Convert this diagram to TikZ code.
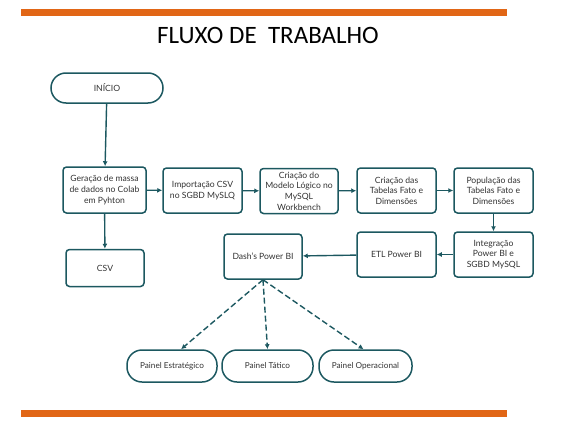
\documentclass[tikz,border=0pt]{standalone}
\usepackage{fontspec}
\setmainfont{Lato}
\newfontfamily\titlefont{Carlito}
\usetikzlibrary{arrows.meta}
\definecolor{mteal}{RGB}{28,88,96}
\definecolor{morange}{RGB}{225,102,22}
\definecolor{mtext}{RGB}{50,50,50}
\tikzset{proc/.style = {draw=mteal, line width=1.5pt, rounded corners=3.5pt,
                        align=center, inner sep=1pt, text=mtext,
                        font=\fontsize{8.6}{10.6}\selectfont,
                        minimum width=79pt, minimum height=45pt}}
\tikzset{term/.style = {proc, rounded corners=15pt, minimum height=31pt}}
\tikzset{flow/.style = {draw=mteal, line width=1.4pt,
                        -{Latex[length=5pt,width=5pt]}}}
\tikzset{flowd/.style = {flow, dash pattern=on 6pt off 3pt}}
\tikzset{bar/.style = {fill=morange, draw=none}}

\begin{document}
\begin{tikzpicture}[x=1pt, y=-1pt]
  \useasboundingbox (0,0) rectangle (588,436);
  \fill[bar] (21,9) rectangle (507,16);
  \fill[bar] (21,410) rectangle (507,417);
  \node[font=\titlefont\fontsize{25}{29}\selectfont] (titulo) at (268,35)
    {FLUXO DE\ \ TRABALHO};

  \node[term, minimum width=112pt, minimum height=30pt] (inicio) at (107,88) {INÍCIO};
  \node[proc, minimum width=83pt, minimum height=46pt] (geracao) at (104.5,190)
    {Geração de massa\\de dados no Colab\\em Pyhton};
  \node[proc, minimum width=78pt, minimum height=37pt] (csv) at (105,268) {CSV};
  \node[proc] (importacao) at (202.5,190.5) {Importação CSV\\no SGBD MySLQ};
  \node[proc, minimum width=78pt] (modelo) at (299,191)
    {Criação do\\Modelo Lógico no\\MySQL\\Workbench};
  \node[proc] (tabelas) at (396.5,190.5) {Criação das\\Tabelas Fato e\\Dimensões};
  \node[proc] (populacao) at (493.5,190.5) {População das\\Tabelas Fato e\\Dimensões};
  \node[proc] (integracao) at (493.5,254.5) {Integração\\Power BI e\\SGBD MySQL};
  \node[proc] (etl) at (396.5,254.5) {ETL Power BI};
  \node[proc, minimum width=78pt] (dash) at (263,256.5) {Dash's Power BI};

  \node[term, minimum width=90pt, minimum height=32pt,
        font=\fontsize{8.2}{10}\selectfont] (estrat) at (172,366) {Painel Estratégico};
  \node[term, minimum width=91pt, minimum height=32pt,
        font=\fontsize{8.2}{10}\selectfont] (tatico) at (267.5,366) {Painel Tático};
  \node[term, minimum width=93pt, minimum height=32pt,
        font=\fontsize{8.2}{10}\selectfont] (operac) at (365.5,366) {Painel Operacional};

  \draw[flow] (inicio) -- (geracao);
  \draw[flow] (geracao) -- (csv);
  \draw[flow] (geracao) -- (importacao);
  \draw[flow] (importacao) -- (modelo);
  \draw[flow] (modelo) -- (tabelas);
  \draw[flow] (tabelas) -- (populacao);
  \draw[flow] (populacao) -- (integracao);
  \draw[flow] (integracao) -- (etl);
  \draw[flow] (etl) -- (dash);

  \draw[flowd] (dash.south) -- ([xshift=9pt]estrat.north);
  \draw[flowd] (dash.south) -- (tatico.north);
  \draw[flowd] (dash.south) -- ([xshift=-2pt]operac.north);
\end{tikzpicture}
\end{document}
